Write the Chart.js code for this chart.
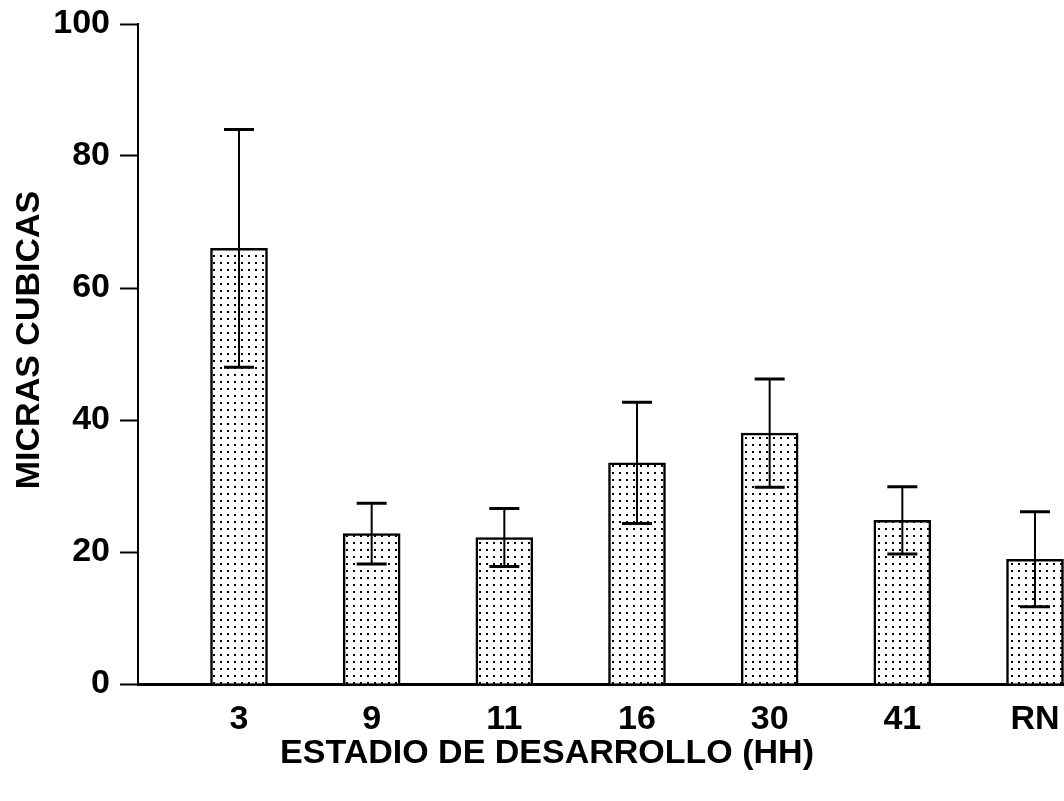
<!DOCTYPE html>
<html lang="es">
<head>
<meta charset="utf-8">
<title>Micras cúbicas por estadio de desarrollo</title>
<script src="https://cdn.jsdelivr.net/npm/chart.js@4/dist/chart.umd.min.js"></script>
<style>
  html, body { margin: 0; padding: 0; background: #fff; }
  canvas { display: block; }
</style>
</head>
<body>
<canvas id="grafico" width="1064" height="801"></canvas>
<script>
// Estadios de desarrollo (HH) y volúmenes medios con su desviación
const categorias = ['3', '9', '11', '16', '30', '41', 'RN'];
const medias = [66.0, 22.8, 22.2, 33.5, 38.0, 24.8, 18.9];
const errores = [18.0, 4.6, 4.4, 9.2, 8.2, 5.1, 7.2];
const ticksY = [0, 20, 40, 60, 80, 100];
const tituloX = 'ESTADIO DE DESARROLLO (HH)';
const tituloY = 'MICRAS CUBICAS';

const FUENTE = '"Liberation Sans", Arial, Helvetica, sans-serif';

const lienzo = document.getElementById('grafico');
const ctx = lienzo.getContext('2d');

// Trama punteada para el relleno de las barras
function tramaPuntos() {
  const t = document.createElement('canvas');
  t.width = 7; t.height = 7;
  const g = t.getContext('2d');
  g.fillStyle = '#ffffff';
  g.fillRect(0, 0, 7, 7);
  g.fillStyle = '#000000';
  g.fillRect(3, 3, 2, 2);
  return ctx.createPattern(t, 'repeat');
}

// Barras de error (media ± desviación) dibujadas sobre cada barra
const barrasError = {
  id: 'barrasError',
  afterDatasetsDraw(chart) {
    const meta = chart.getDatasetMeta(0);
    const y = chart.scales.y;
    const c = chart.ctx;
    c.save();
    c.strokeStyle = '#000';
    meta.data.forEach((barra, i) => {
      const x = barra.x;
      const yAlto = y.getPixelForValue(medias[i] + errores[i]);
      const yBajo = y.getPixelForValue(medias[i] - errores[i]);
      c.lineWidth = 2;
      c.beginPath();
      c.moveTo(x, yAlto);
      c.lineTo(x, yBajo);
      c.stroke();
      c.lineWidth = 3;
      c.beginPath();
      c.moveTo(x - 15, yAlto);
      c.lineTo(x + 15, yAlto);
      c.moveTo(x - 15, yBajo);
      c.lineTo(x + 15, yBajo);
      c.stroke();
    });
    c.restore();
  }
};

// Títulos de los ejes
const titulosEjes = {
  id: 'titulosEjes',
  afterDraw(chart) {
    const c = chart.ctx;
    c.save();
    c.fillStyle = '#000';
    c.font = 'bold 34px ' + FUENTE;
    c.textAlign = 'center';
    c.textBaseline = 'alphabetic';
    c.fillText(tituloX, 547, 763);
    c.translate(39, 340);
    c.rotate(-Math.PI / 2);
    c.fillText(tituloY, 0, 0);
    c.restore();
  }
};

new Chart(ctx, {
  type: 'bar',
  data: {
    datasets: [{
      data: medias.map((v, i) => ({ x: i + 1, y: v })),
      backgroundColor: tramaPuntos(),
      borderColor: '#000',
      borderWidth: 2.5,
      borderSkipped: 'start',
      barThickness: 57
    }]
  },
  options: {
    responsive: false,
    devicePixelRatio: 1,
    animation: false,
    layout: { padding: { top: 24, left: 0, right: 0, bottom: 0 } },
    plugins: {
      legend: { display: false },
      tooltip: { enabled: false },
      title: { display: false }
    },
    scales: {
      x: {
        type: 'linear',
        offset: false,
        min: 0.2387,
        max: 7.2186,
        grid: { display: false, offset: false },
        border: { display: true, color: '#000', width: 3 },
        afterBuildTicks(scale) {
          scale.ticks = categorias.map((_, i) => ({ value: i + 1 }));
        },
        afterFit(scale) {
          scale.height = 117;
          scale.paddingLeft = 0;
          scale.paddingRight = 0;
        },
        ticks: {
          autoSkip: false,
          maxRotation: 0,
          padding: 7,
          color: '#000',
          font: { family: FUENTE, size: 34, weight: 'bold' },
          callback: (v) => categorias[v - 1]
        }
      },
      y: {
        min: 0,
        max: 100,
        afterBuildTicks(scale) {
          scale.ticks = ticksY.map(v => ({ value: v }));
        },
        afterFit(scale) {
          scale.width = 138;
          scale.paddingTop = 0;
          scale.paddingBottom = 0;
        },
        grid: {
          display: true,
          drawOnChartArea: false,
          drawTicks: true,
          tickLength: 18,
          tickWidth: 2,
          tickColor: '#000'
        },
        border: { display: true, color: '#000', width: 2 },
        ticks: {
          padding: 10,
          color: '#000',
          font: { family: FUENTE, size: 34, weight: 'bold' }
        }
      }
    }
  },
  plugins: [barrasError, titulosEjes]
});
</script>
</body>
</html>
